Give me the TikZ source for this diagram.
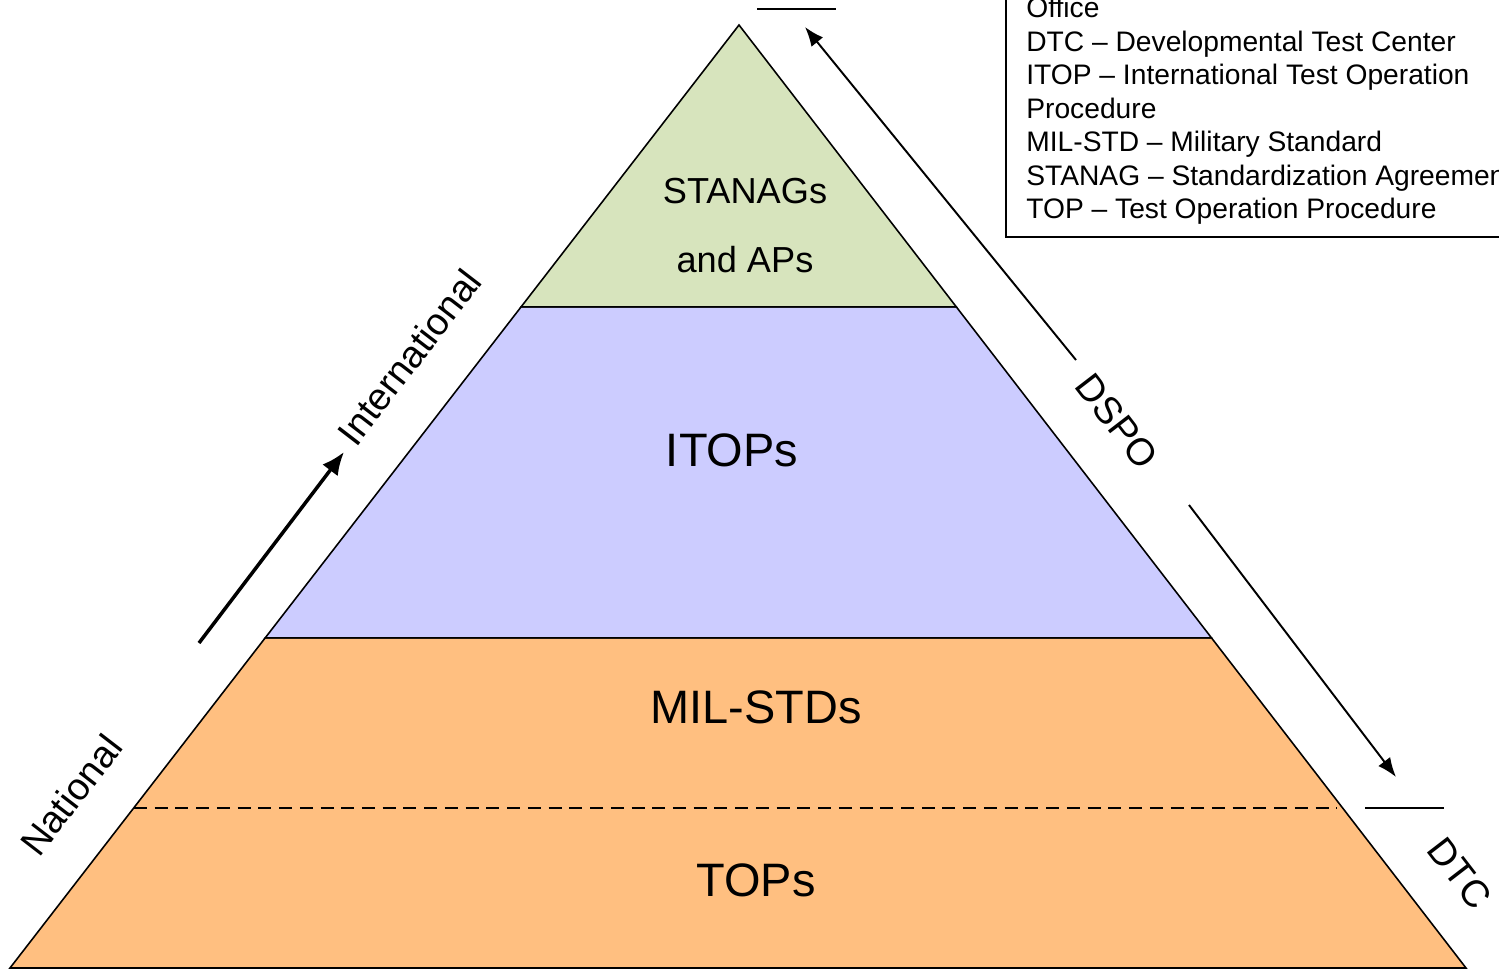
\documentclass[tikz,border=0pt]{standalone}
\usepackage{fontspec}
\setmainfont{Liberation Sans}
\usetikzlibrary{calc,arrows.meta}
\definecolor{topgreen}{HTML}{D7E4BD}
\definecolor{midblue}{HTML}{CCCCFF}
\definecolor{lowor}{HTML}{FFBF80}
\tikzset{
  outline/.style={draw=black, line width=0.9pt, line join=miter},
  layertxt/.style={anchor=base, inner sep=0pt, font=\fontsize{26.7}{32}\selectfont},
  smalltxt/.style={anchor=base, inner sep=0pt, font=\fontsize{20.6}{25}\selectfont},
  sidetxt/.style={inner sep=0pt, font=\fontsize{21.6}{26}\selectfont},
  arrowline/.style={draw=black, line width=1.1pt, -{Latex[length=11pt,width=8.5pt]}},
  thickarrow/.style={draw=black, line width=2pt, -{Latex[length=13pt,width=11pt]}},
  tick/.style={draw=black, line width=0.8pt},
}
\begin{document}
\begin{tikzpicture}[x=0.02cm,y=-0.02cm]
\useasboundingbox (0,0) rectangle (1499,970);
% pyramid corners
\coordinate (apex) at (739,25);
\coordinate (bl) at (10,968);
\coordinate (br) at (1466,968);
\coordinate (l1) at ($(apex)!0.299!(bl)$);
\coordinate (r1) at ($(apex)!0.299!(br)$);
\coordinate (l2) at ($(apex)!0.650!(bl)$);
\coordinate (r2) at ($(apex)!0.650!(br)$);
\coordinate (l3) at ($(apex)!0.830!(bl)$);
\coordinate (r3) at ($(apex)!0.830!(br)$);
% layers
\path[outline, fill=lowor] (l2) -- (r2) -- (br) -- (bl) -- cycle;
\path[outline, fill=midblue] (l1) -- (r1) -- (r2) -- (l2) -- cycle;
\path[outline, fill=topgreen] (apex) -- (r1) -- (l1) -- cycle;
\draw[black, line width=1.1pt, dash pattern=on 7.4pt off 4.4pt] (l3) -- ($(r3)+(-5,0)$);
% layer labels
\node[smalltxt] (stanag) at (745,203) {STANAGs};
\node[smalltxt] (aps) at (745,272) {and APs};
\node[layertxt] (itops) at (732,466) {ITOPs};
\node[layertxt] (milstd) at (756,723) {MIL-STDs};
\node[layertxt] (tops) at (756,896) {TOPs};
% left side
\coordinate (la0) at (199,643);
\coordinate (la1) at (344,452);
\draw[thickarrow] (la0) -- (la1);
\node[sidetxt, rotate=52.4] (intl) at (409,357) {International};
\node[sidetxt, rotate=52.4] (natl) at (71,795) {National};
% right side
\coordinate (ra0) at (1076,360);
\coordinate (ra1) at (805,27);
\draw[arrowline] (ra0) -- (ra1);
\coordinate (rb0) at (1189,505);
\coordinate (rb1) at (1396,777);
\draw[arrowline] (rb0) -- (rb1);
\node[sidetxt, rotate=-52.4] (dspo) at (1117,421) {DSPO};
\node[sidetxt, rotate=-52.4] (dtc) at (1460,873) {DTC};
\coordinate (t1a) at (757,9);
\coordinate (t1b) at (836,9);
\draw[tick] (t1a) -- (t1b);
\coordinate (t2a) at (1365,808);
\coordinate (t2b) at (1444,808);
\draw[tick] (t2a) -- (t2b);
% legend
\begin{scope}
\clip (0,0) rectangle (1499,970);
\draw[line width=0.8pt] (1006,-20) rectangle (1530,237);
\node[anchor=north west, inner sep=0pt, align=left, font=\fontsize{16.05}{19.05}\selectfont] (legend) at (1026,-3)
{Office\\
DTC -- Developmental Test Center\\
ITOP -- International Test Operation\\
Procedure\\
MIL-STD -- Military Standard\\
STANAG -- Standardization Agreement\\
TOP -- Test Operation Procedure};
\end{scope}
\end{tikzpicture}
\end{document}
